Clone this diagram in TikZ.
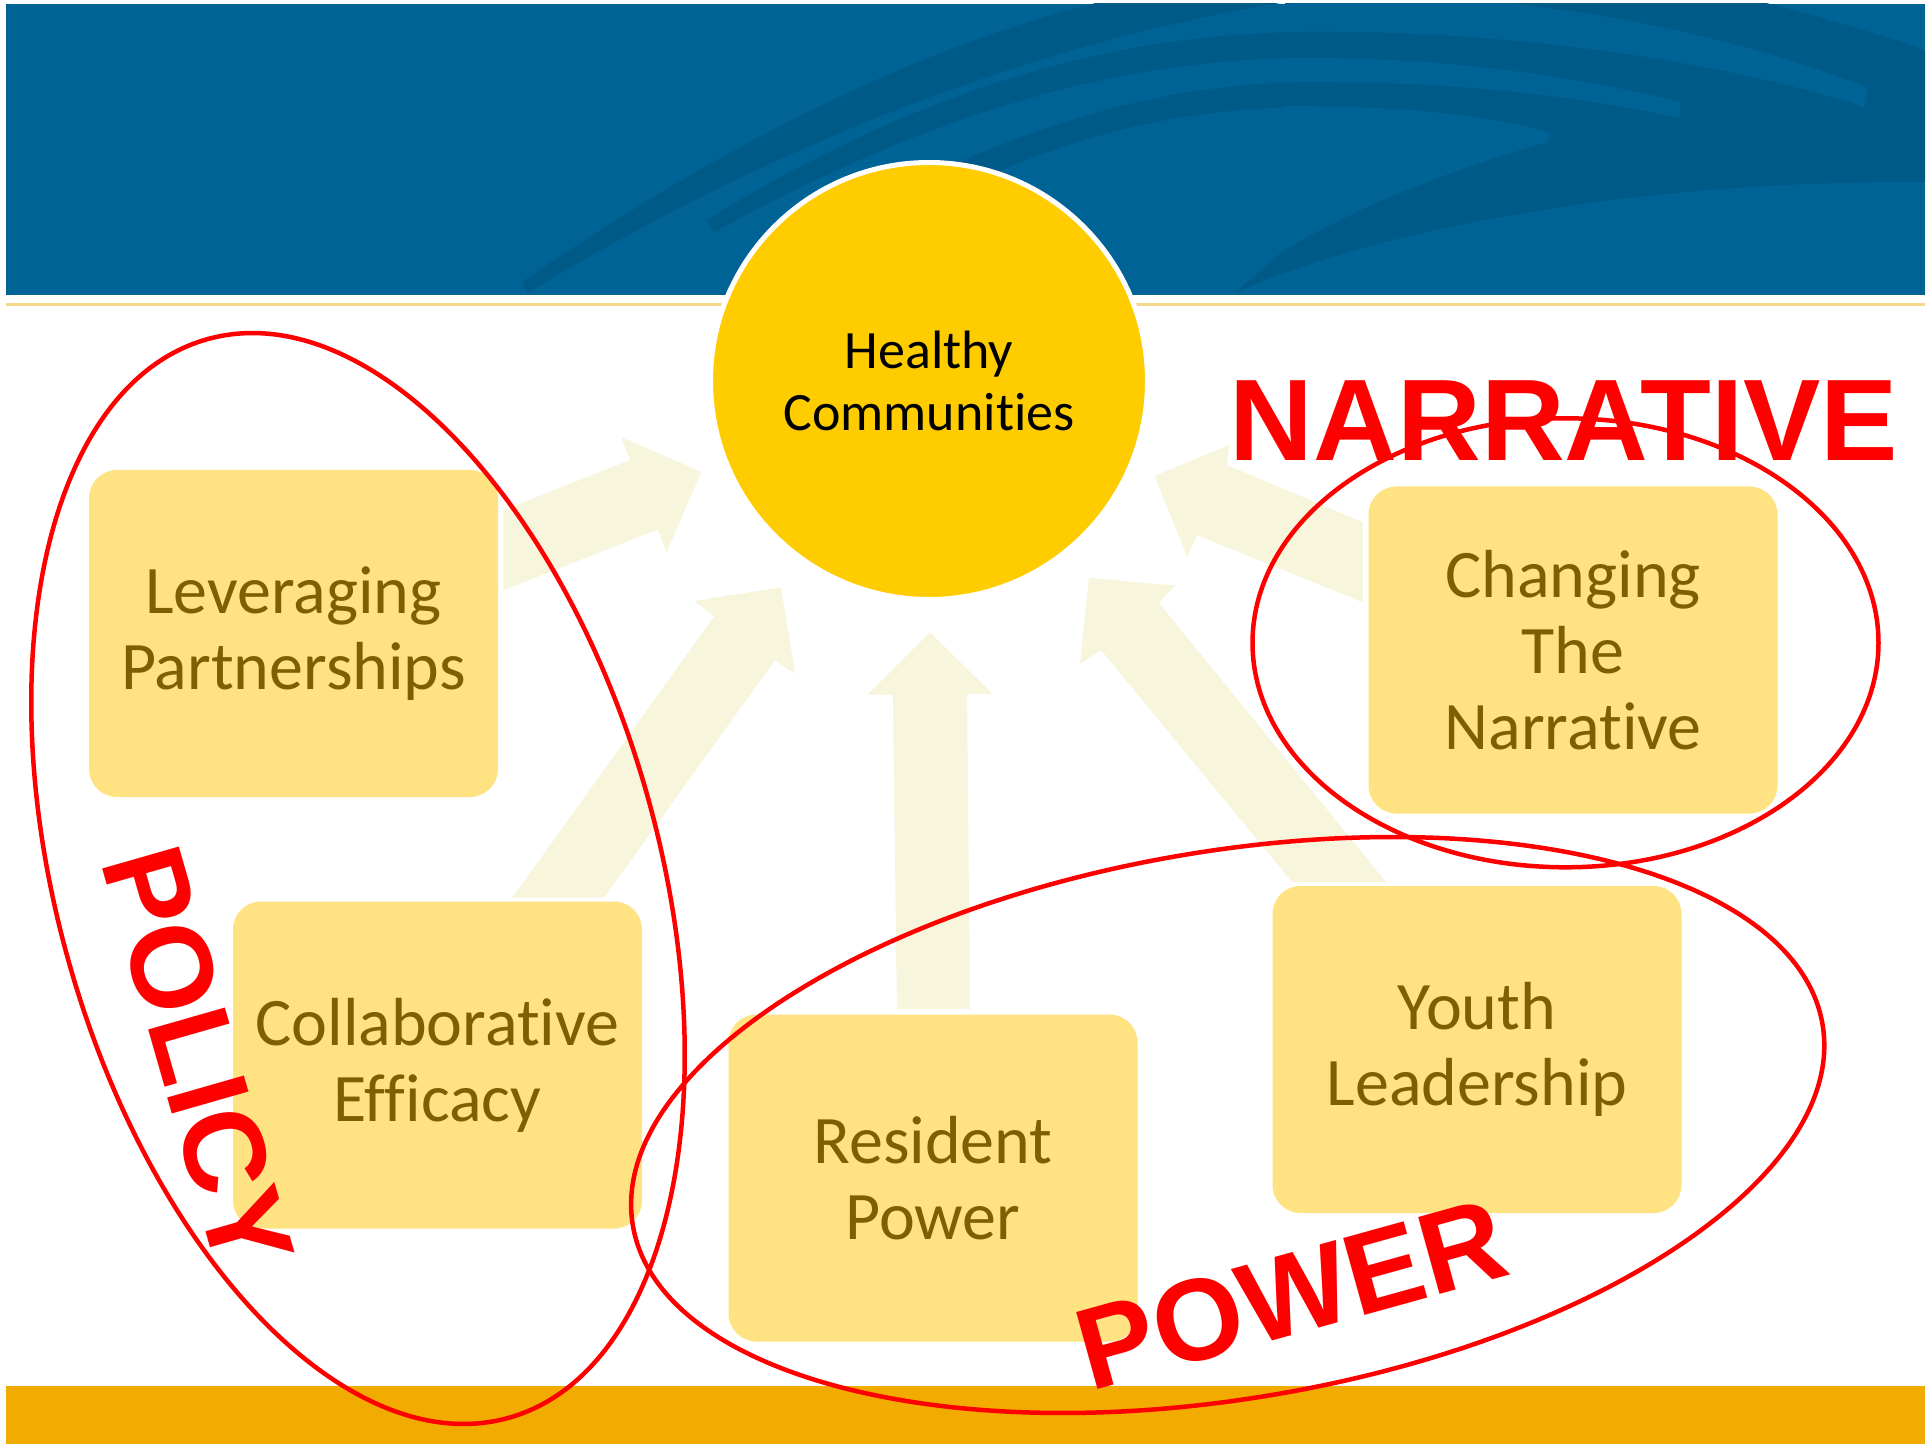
\documentclass[tikz,border=0pt]{standalone}
\usepackage{fontspec}
\setmainfont{Carlito}[Ligatures={NoCommon}]
\newfontfamily\redfont{Liberation Sans}
\definecolor{hdr}{RGB}{0,99,150}
\definecolor{hdrdark}{RGB}{0,90,136}
\definecolor{sun}{RGB}{255,204,0}
\definecolor{boxfill}{RGB}{255,226,130}
\definecolor{boxtext}{RGB}{127,96,0}
\definecolor{arrowfill}{RGB}{247,245,220}
\definecolor{barorange}{RGB}{242,171,0}
\definecolor{paleline}{RGB}{246,215,140}
\tikzset{
  stepbox/.style={fill=boxfill, draw=none, rounded corners=14pt, minimum width=204.5pt, minimum height=163.5pt, inner sep=0pt, text=boxtext, align=center, font=\fontsize{34}{38}\selectfont},
  flowarrow/.style={fill=arrowfill, draw=none},
  ring/.style={draw=red, line width=2.25pt},
  bigred/.style={text=red, inner sep=0pt, font=\redfont\bfseries\fontsize{58}{60}\selectfont},
  swoosh/.style={fill=hdrdark, draw=none},
  lightstrip/.style={fill=hdr, draw=none},
}
\begin{document}
\begin{tikzpicture}[x=0.5pt,y=-0.5pt]
\useasboundingbox (0,0) rectangle (1929,1444);
\fill[white] (0,0) rectangle (1929,1444);
% header
\begin{scope}
\clip (6,4) rectangle (1925,295);
\fill[hdr] (6,4) rectangle (1925,295);
% band 1 (left part)
\fill[swoosh] (522,282) .. controls (700,160) and (900,50) .. (1108,0) -- (1300,0) .. controls (1000,45) and (720,175) .. (528,293) -- cycle;
% band 2 (left part)
\fill[swoosh] (707,220) .. controls (900,100) and (1100,32) .. (1310,32) -- (1310,58) .. controls (1100,58) and (910,125) .. (714,232) -- cycle;
% band 3 (left part)
\fill[swoosh] (900,190) .. controls (1050,115) and (1180,83) .. (1310,82) -- (1310,107) .. controls (1180,108) and (1060,135) .. (930,205) -- cycle;
% big dark region on the right
\fill[swoosh] (1235,293) .. controls (1350,240) and (1600,180) .. (1929,182) -- (1929,52) .. controls (1870,30) and (1800,12) .. (1755,0) -- (1290,0) -- (1290,245) -- cycle;
% light strips cut into it
\fill[lightstrip] (1285,0) -- (1473,0) .. controls (1620,12) and (1760,45) .. (1868,88) -- (1864,107) .. controls (1720,60) and (1500,28) .. (1285,32) -- cycle;
\fill[lightstrip] (1285,58) .. controls (1450,56) and (1580,78) .. (1681,102) -- (1679,118) .. controls (1580,96) and (1450,80) .. (1285,82) -- cycle;
\fill[lightstrip] (1285,106) .. controls (1420,106) and (1500,118) .. (1550,133) -- (1548,142) .. controls (1450,170) and (1360,205) .. (1285,250) -- cycle;
\end{scope}
\fill[paleline] (6,303.5) rectangle (1925,306.5);
% bottom bar
\fill[barorange] (6,1386) rectangle (1925,1444);
% central circle
\node[circle, fill=sun, draw=white, line width=2.5pt, minimum size=218.5pt, inner sep=0pt, align=center, font=\fontsize{27}{30.8}\selectfont] (hc) at (929,381) {Healthy\\Communities};
% block arrows
\fill[flowarrow] (503.6,590.2) -- (503.6,510.2) -- (629.9,460.1) -- (621,437.1) -- (701.3,471.9) -- (666.5,552.3) -- (657.6,529.4) -- cycle;
\fill[flowarrow] (512.5,897.5) -- (604,897.5) -- (775,660.2) -- (795.1,673.6) -- (780.8,587.5) -- (694.2,600.9) -- (714.3,616.2) -- cycle;
\fill[flowarrow] (897,1009) -- (970,1009) -- (967,693.9) -- (992.4,693.9) -- (929.9,632.3) -- (867.4,694.7) -- (892.9,694.7) -- cycle;
\fill[flowarrow] (1292,882) -- (1386,882) -- (1159,603) -- (1175,585.6) -- (1089,578) -- (1080,664) -- (1101,650) -- cycle;
\fill[flowarrow] (1362.8,522.3) -- (1226.9,465) -- (1229.6,445) -- (1154.5,476) -- (1187.3,556.7) -- (1196.8,535) -- (1362.8,602.3) -- cycle;
% boxes
\node[stepbox] (lev) at (293.5,633.5) {Leveraging\\Partnerships};
\node[stepbox] (col) at (437.5,1065) {Collaborative\\Efficacy};
\node[stepbox] (res) at (933,1178) {Resident\\Power};
\node[stepbox] (you) at (1477,1049.5) {Youth\\Leadership};
\node[stepbox] (cha) at (1573,650) {Changing\\The\\Narrative};
% red ellipses
\draw[ring, rotate around={15.6:(358,878.5)}] (358,878.5) ellipse [x radius=150.5pt, y radius=280pt];
\draw[ring] (1565.5,642.8) ellipse [x radius=156.5pt, y radius=112.25pt];
\draw[ring, rotate around={9.6:(1227.7,1125)}] (1227.7,1125) ellipse [x radius=301.65pt, y radius=136.8pt];
% red labels
\node[bigred] (narr) at (1564,421) {NARRATIVE};
\node[bigred, rotate=-74] (pol) at (198,1058) {POLICY};
\node[bigred, rotate=15.5] (pow) at (1291,1294.5) {POWER};
\end{tikzpicture}
\end{document}
